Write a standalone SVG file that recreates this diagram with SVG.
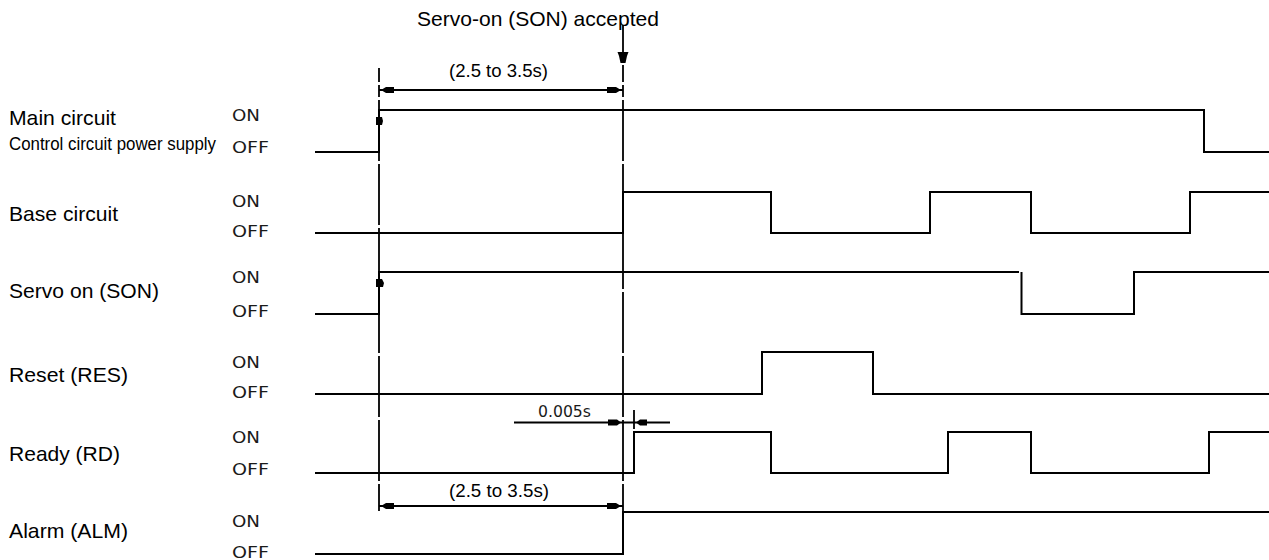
<svg xmlns="http://www.w3.org/2000/svg" width="1269" height="560" viewBox="0 0 1269 560">
<style>
.lbl{font-family:"Liberation Sans",Arial,sans-serif;font-size:21px;fill:#000}
.st{font-family:"DejaVu Sans","Liberation Sans",sans-serif;font-size:16px;fill:#1a1a1a}
.dim{font-family:"Liberation Sans",Arial,sans-serif;font-size:18.5px;fill:#000}
.wave{fill:none;stroke:#000;stroke-width:2}
.dash{fill:none;stroke:#000;stroke-width:1.8;stroke-dasharray:61 3}
.ln{fill:none;stroke:#000;stroke-width:1.8}
.ah{fill:#000}
</style>
<rect width="1269" height="560" fill="#fff"/>
<g id="main-circuit">
<text class="lbl" x="9" y="125" textLength="107" lengthAdjust="spacingAndGlyphs">Main circuit</text>
<text class="lbl" x="9" y="150" style="font-size:17.5px" textLength="207" lengthAdjust="spacingAndGlyphs">Control circuit power supply</text>
<text class="st" x="232" y="121" textLength="28" lengthAdjust="spacingAndGlyphs">ON</text>
<text class="st" x="232" y="153" textLength="37" lengthAdjust="spacingAndGlyphs">OFF</text>
<path class="wave" d="M315 152H379V110H1204V152H1269"/>
<polygon class="ah" points="376,117 382,117 383,121 382,125 376,125"/>
</g>
<g id="base-circuit">
<text class="lbl" x="9" y="221" textLength="109" lengthAdjust="spacingAndGlyphs">Base circuit</text>
<text class="st" x="232" y="207" textLength="28" lengthAdjust="spacingAndGlyphs">ON</text>
<text class="st" x="232" y="237" textLength="37" lengthAdjust="spacingAndGlyphs">OFF</text>
<path class="wave" d="M315 233H623V192H771V233H930V192H1031V233H1190V192H1269"/>
</g>
<g id="servo-on">
<text class="lbl" x="9" y="298" textLength="150" lengthAdjust="spacingAndGlyphs">Servo on (SON)</text>
<text class="st" x="232" y="283" textLength="28" lengthAdjust="spacingAndGlyphs">ON</text>
<text class="st" x="232" y="317" textLength="37" lengthAdjust="spacingAndGlyphs">OFF</text>
<path class="wave" d="M315 314H379V272H1019M1021.5 272V314H1134V272H1269"/>
<polygon class="ah" points="376,279 382,279 384,283 383,287 376,287"/>
</g>
<g id="reset">
<text class="lbl" x="9" y="382" textLength="119" lengthAdjust="spacingAndGlyphs">Reset (RES)</text>
<text class="st" x="232" y="368" textLength="28" lengthAdjust="spacingAndGlyphs">ON</text>
<text class="st" x="232" y="398" textLength="37" lengthAdjust="spacingAndGlyphs">OFF</text>
<path class="wave" d="M315 394H762V352H873V394H1269"/>
</g>
<g id="ready">
<text class="lbl" x="9" y="461" textLength="111" lengthAdjust="spacingAndGlyphs">Ready (RD)</text>
<text class="st" x="232" y="443" textLength="28" lengthAdjust="spacingAndGlyphs">ON</text>
<text class="st" x="232" y="475" textLength="37" lengthAdjust="spacingAndGlyphs">OFF</text>
<path class="wave" d="M315 473H634V432H771V473H948V432H1031V473H1209V432H1269"/>
</g>
<g id="alarm">
<text class="lbl" x="9" y="538" textLength="119" lengthAdjust="spacingAndGlyphs">Alarm (ALM)</text>
<text class="st" x="232" y="527" textLength="28" lengthAdjust="spacingAndGlyphs">ON</text>
<text class="st" x="232" y="558" textLength="37" lengthAdjust="spacingAndGlyphs">OFF</text>
<path class="wave" d="M315 554H623V512H1269"/>
</g>
<g id="connectors">
<text class="lbl" x="417" y="26" textLength="242" lengthAdjust="spacingAndGlyphs">Servo-on (SON) accepted</text>
<line class="ln" x1="623" y1="25" x2="623" y2="53"/>
<polygon class="ah" points="617.5,52 628.5,52 627,56 625.5,63 620.5,63 619,56"/>
<path class="ln" d="M379 68V82M379 85V97"/>
<line class="dash" x1="379" y1="100" x2="379" y2="511"/>
<path class="ln" d="M623 65V82M623 85V97"/>
<line class="dash" x1="623" y1="100" x2="623" y2="512"/>
<text class="dim" x="449" y="77" textLength="99" lengthAdjust="spacingAndGlyphs">(2.5 to 3.5s)</text>
<line class="ln" x1="379" y1="90" x2="623" y2="90"/>
<polygon class="ah" points="381,90 386,87 394,87 394,93 386,93"/>
<polygon class="ah" points="621,90 616,87 607,87 607,93 616,93"/>
<text class="dim" x="449" y="497" textLength="100" lengthAdjust="spacingAndGlyphs">(2.5 to 3.5s)</text>
<line class="ln" x1="379" y1="506" x2="623" y2="506"/>
<polygon class="ah" points="381,506 386,503 394,503 394,509 386,509"/>
<polygon class="ah" points="621,506 616,503 607,503 607,509 616,509"/>
<text class="st" x="538" y="417" textLength="53" lengthAdjust="spacingAndGlyphs">0.005s</text>
<line class="ln" x1="514" y1="422.5" x2="670" y2="422.5"/>
<line class="ln" x1="634" y1="410" x2="634" y2="429"/>
<polygon class="ah" points="621,422.5 617,419.5 608,419.5 608,425.5 617,425.5"/>
<polygon class="ah" points="636,422.5 640,419.5 647,419.5 647,425.5 640,425.5"/>
</g>
</svg>
